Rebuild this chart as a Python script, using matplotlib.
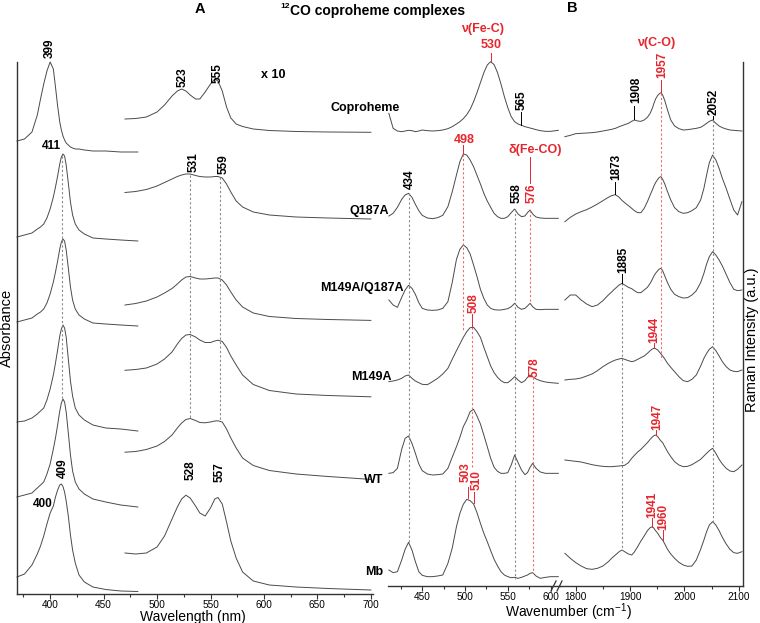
import matplotlib
matplotlib.use('Agg')
import matplotlib.pyplot as plt
from matplotlib.ticker import MultipleLocator
from matplotlib.lines import Line2D

plt.rcParams['font.family'] = ['Liberation Sans', 'DejaVu Sans']
plt.rcParams['mathtext.fontset'] = 'custom'
plt.rcParams['mathtext.rm'] = 'Liberation Sans'
plt.rcParams['mathtext.it'] = 'Liberation Sans:italic'
plt.rcParams['mathtext.bf'] = 'Liberation Sans:bold'

# ---------------- data: panel A (absorbance, arbitrary offset units) ----------------
soret_nm = [369, 376, 383, 388, 391, 394, 397, 400, 403, 405, 407, 409, 410.5, 412,
            413.5, 415, 417, 419, 421, 423.5, 427, 432, 440, 452, 466, 482]
soret_copro = [453, 455, 462, 479, 495, 510, 523, 532, 525, 507, 488, 472, 464, 458,
               454, 451, 449, 447, 446, 445, 445, 444, 443, 443, 442, 442]
soret_q187a = [357, 359, 361, 365, 367, 370, 376, 385, 397, 407, 418, 430, 437, 440,
               438, 429, 411, 392, 379, 370, 364, 360, 356, 355, 354, 353]
soret_mq = [272, 274, 276, 280, 282, 285, 291, 300, 312, 322, 333, 345, 352, 355,
            353, 344, 326, 307, 294, 285, 279, 275, 271, 270, 269, 268]
soret_m149a = [172, 173, 176, 180, 183, 186, 194, 205, 219, 231, 244, 258, 265, 269,
               266, 257, 235, 213, 198, 186, 179, 174, 169, 166, 165, 163]
soret_wt = [97, 99, 101, 106, 109, 112, 120, 130, 145, 156, 169, 183, 191, 195,
            192, 182, 161, 139, 123, 112, 105, 100, 95, 92, 89, 87]
soret_mb = [17, 20, 29, 40, 48, 58, 70, 81, 88, 97, 104, 109, 110, 107.5,
            102, 93, 78, 59, 44, 31, 19, 12, 7, 4.5, 3, 2.5]

vis_nm = [470, 480, 490, 500, 507, 514, 519, 523, 527, 531, 536, 540, 545, 550,
          554, 557, 561, 565, 569, 574, 580, 590, 605, 630, 660, 700]
vis_copro = [475, 475.5, 477, 482, 489, 498, 503, 505, 503, 499, 495, 495, 502, 510,
             515, 513, 503, 487, 476, 470, 467.5, 465, 463.5, 462.5, 462, 461.7]
vis_q187a = [401.5, 402.5, 404.5, 408, 411.5, 415, 417.5, 419, 420, 420, 418.5, 417.5, 417, 417,
             417.5, 417.5, 416, 410, 402, 393, 387, 382, 379, 377, 376, 375]
vis_mq = [289, 290.5, 293, 297, 301, 305.5, 310, 314, 317, 317.5, 316, 315, 315, 315.5,
          316, 316, 314, 309, 302, 294, 287, 281, 277.5, 275.5, 274.5, 273.6]
vis_m149a = [223.7, 224.5, 226, 230, 235, 242, 250, 255.5, 259, 259.5, 257, 254, 251.5, 251.5,
             253, 253.8, 252.5, 246.5, 238, 229, 219, 209.5, 203.5, 200, 198.5, 197.2]
vis_wt = [141.8, 142.5, 144.5, 148, 152.5, 159, 166, 171, 174.5, 175.5, 173.5, 171.5, 171.2, 172,
          173, 173.2, 172, 165, 156, 146, 136, 128.5, 123.5, 120, 117.5, 114.6]
vis_mb = [41, 40, 41, 47, 58, 75, 87, 95, 98.8, 96, 88, 81, 78, 86,
          95, 96.5, 90, 72, 53, 36, 22, 13, 9, 7, 5.5, 4]

# ---------------- data: panel B (Raman, arbitrary offset units) ----------------
low_cm = [411, 416, 421, 426, 430, 434, 438, 442, 446, 450, 456, 462, 468, 474, 480,
          485, 490, 494, 498, 502, 506, 510, 514, 518, 522, 526, 530, 534, 538, 542,
          546, 550, 554, 558, 562, 566, 570, 573, 576, 579, 583, 588, 594, 600, 609]
low_copro = [1418, 1373, 1365, 1363, 1365, 1367, 1366, 1363, 1365, 1368, 1366, 1365, 1366, 1368, 1372,
             1378, 1386, 1393, 1402, 1414, 1430, 1453, 1480, 1510, 1540, 1563, 1573, 1564, 1540, 1506,
             1468, 1435, 1408, 1393, 1386, 1382, 1378, 1376, 1374, 1372, 1369, 1366, 1364, 1364, 1367]
low_q187a = [1110, 1118, 1136, 1160, 1173, 1178, 1166, 1145, 1126, 1112, 1104, 1102, 1105, 1112, 1138,
             1182, 1233, 1273, 1296, 1293, 1278, 1258, 1232, 1206, 1178, 1155, 1136, 1118, 1108, 1103,
             1103, 1108, 1120, 1131, 1116, 1108, 1110, 1120, 1128, 1116, 1107, 1104, 1103, 1103, 1103]
low_mq = [858, 843, 836, 866, 888, 902, 893, 875, 850, 833, 828, 827, 828, 833, 853,
          910, 980, 1010, 1023, 1015, 996, 963, 928, 890, 863, 843, 833, 829, 828, 828,
          830, 832, 838, 848, 836, 830, 833, 840, 848, 838, 830, 829, 830, 830, 830]
low_m149a = [613, 615, 618, 623, 630, 633, 623, 615, 610, 605, 604, 613, 623, 636, 653,
             680, 706, 726, 746, 763, 775, 776, 763, 746, 716, 688, 660, 640, 626, 616,
             610, 610, 618, 628, 618, 610, 616, 626, 633, 628, 621, 616, 612, 610, 608]
low_wt = [338, 340, 353, 410, 443, 450, 428, 398, 366, 346, 336, 333, 334, 336, 353,
          386, 418, 446, 478, 498, 523, 530, 510, 486, 453, 418, 383, 356, 344, 338,
          338, 340, 363, 393, 370, 348, 334, 340, 356, 368, 353, 342, 338, 338, 338]
low_mb = [48, 40, 43, 78, 110, 131, 108, 73, 43, 32, 28, 28, 30, 33, 68,
          113, 178, 218, 245, 260, 256, 246, 220, 188, 158, 133, 106, 80, 60, 43,
          33, 28, 25, 26, 23, 26, 30, 33, 38, 40, 30, 23, 26, 28, 28]

high_cm = [1780, 1790, 1800, 1810, 1820, 1830, 1840, 1850, 1860, 1866, 1873, 1880, 1885, 1890,
           1897, 1903, 1908, 1914, 1920, 1926, 1932, 1937, 1941, 1944, 1947, 1951, 1954, 1957,
           1960, 1964, 1969, 1975, 1982, 1990, 1998, 2006, 2014, 2022, 2030, 2036, 2041, 2046,
           2052, 2058, 2064, 2070, 2077, 2084, 2091, 2098, 2106]
high_copro = [1348, 1352, 1357, 1358, 1359, 1360, 1362, 1365, 1368, 1370, 1373, 1378, 1381, 1384,
              1388, 1394, 1398, 1395, 1394, 1398, 1406, 1418, 1433, 1448, 1461, 1472, 1477, 1480,
              1473, 1456, 1428, 1398, 1380, 1372, 1368, 1369, 1371, 1373, 1376, 1382, 1388, 1394,
              1398, 1388, 1380, 1375, 1371, 1368, 1367, 1366, 1365]
high_q187a = [1093, 1106, 1116, 1123, 1129, 1137, 1146, 1156, 1166, 1171, 1174, 1166, 1157, 1150,
              1141, 1133, 1126, 1120, 1120, 1133, 1153, 1173, 1188, 1200, 1210, 1220, 1226, 1228,
              1220, 1206, 1183, 1158, 1135, 1123, 1118, 1120, 1126, 1135, 1158, 1193, 1233, 1270,
              1293, 1278, 1253, 1223, 1193, 1160, 1128, 1113, 1153]
high_mq = [858, 873, 873, 858, 846, 838, 843, 856, 873, 882, 893, 903, 908, 903,
           896, 892, 886, 880, 880, 888, 896, 908, 920, 930, 938, 946, 951, 953,
           946, 930, 910, 890, 875, 868, 864, 865, 873, 886, 910, 938, 966, 988,
           1003, 993, 978, 960, 935, 910, 890, 886, 888]
high_m149a = [618, 620, 621, 624, 630, 636, 646, 658, 668, 673, 678, 681, 683, 680,
              676, 673, 675, 680, 685, 690, 698, 706, 711, 713, 712, 708, 702, 696,
              690, 681, 668, 656, 643, 628, 616, 613, 620, 633, 660, 683, 698, 710,
              718, 706, 690, 673, 658, 648, 644, 643, 648]
high_wt = [378, 376, 374, 372, 368, 364, 361, 359, 358, 358, 359, 360, 361, 362,
           370, 383, 392, 402, 410, 420, 430, 440, 447, 451, 453, 448, 441, 435,
           430, 418, 403, 388, 373, 363, 358, 359, 364, 372, 380, 390, 398, 406,
           413, 398, 380, 366, 353, 345, 343, 350, 363]
high_mb = [98, 83, 70, 60, 52, 50, 53, 60, 73, 83, 93, 103, 108, 103,
           96, 93, 102, 118, 135, 150, 166, 175, 178, 173, 166, 158, 150, 143,
           138, 126, 110, 96, 83, 71, 63, 59, 60, 78, 110, 138, 163, 183,
           193, 183, 166, 146, 126, 110, 100, 98, 103]

sample_names = ['Coproheme', 'Q187A', 'M149A/Q187A', 'M149A', 'WT', 'Mb']

# ---------------- figure ----------------
W, H = 760, 623
fig = plt.figure(figsize=(W / 100, H / 100), dpi=100)


def fx(px):
    return px / W


def fy(py):
    return 1 - py / H


LINE = '#4a4a4a'
RED = '#e5262d'
DOT_GREY = '#8a8a8a'
DOT_RED = '#ef6a6e'
LW = 0.7

axA = fig.add_axes([fx(17), fy(594), (373 - 17) / W, (594 - 62) / H])
axBl = fig.add_axes([fx(388), fy(586), (560 - 388) / W, (586 - 62) / H])
axBh = fig.add_axes([fx(560), fy(586), (743 - 560) / W, (586 - 62) / H])

axA.set_xlim(369, 702)
axA.set_ylim(0, 532)
axBl.set_xlim(410, 611)
axBl.set_ylim(0, 1572)
axBh.set_xlim(1771, 2108)
axBh.set_ylim(0, 1572)

for ax in (axA, axBl, axBh):
    ax.set_facecolor('none')
    ax.set_yticks([])
    for s in ax.spines.values():
        s.set_linewidth(1.0)
        s.set_color('#333333')
    ax.spines['top'].set_visible(False)
    ax.tick_params(axis='x', which='major', direction='out', length=3.5, width=0.8,
                   labelsize=7.2, pad=1.0, colors='#333333', labelcolor='black')
    ax.tick_params(axis='x', which='minor', direction='out', length=2, width=0.8,
                   colors='#333333')

axA.spines['right'].set_visible(False)
axBl.spines['right'].set_visible(False)
axBl.spines['left'].set_visible(False)
axBh.spines['left'].set_visible(False)

axA.xaxis.set_major_locator(MultipleLocator(50))
axA.xaxis.set_minor_locator(MultipleLocator(25))
axBl.set_xticks([450, 500, 550, 600])
axBl.xaxis.set_minor_locator(MultipleLocator(25))
axBh.set_xticks([1800, 1900, 2000, 2100])
axBh.xaxis.set_minor_locator(MultipleLocator(50))

# spectra
for ys in (soret_copro, soret_q187a, soret_mq, soret_m149a, soret_wt, soret_mb):
    axA.plot(soret_nm, ys, color=LINE, lw=LW, clip_on=False)
for ys in (vis_copro, vis_q187a, vis_mq, vis_m149a, vis_wt, vis_mb):
    axA.plot(vis_nm, ys, color=LINE, lw=LW, clip_on=False)
for ys in (low_copro, low_q187a, low_mq, low_m149a, low_wt, low_mb):
    axBl.plot(low_cm, ys, color=LINE, lw=LW, clip_on=False)
for ys in (high_copro, high_q187a, high_mq, high_m149a, high_wt, high_mb):
    axBh.plot(high_cm, ys, color=LINE, lw=LW, clip_on=False)


def dotted(ax, x, y0, y1, color):
    ax.plot([x, x], [y0, y1], color=color, lw=0.8, ls=(0, (2, 2)), clip_on=False)


def lead(ax, x, y0, y1, color='black'):
    ax.plot([x, x], [y0, y1], color=color, lw=0.7, clip_on=False)


def vlabel(ax, x, y, s, color='black', size=8.5):
    ax.text(x, y, s, rotation=90, ha='center', va='bottom', fontsize=size,
            fontweight='bold', color=color, clip_on=False)


def hlabel(ax, x, y, s, color='black', size=8.5):
    ax.text(x, y, s, ha='center', va='center', fontsize=size,
            fontweight='bold', color=color, clip_on=False)


# panel A annotations
dotted(axA, 411, 438, 196, DOT_GREY)
dotted(axA, 531, 419, 176, DOT_GREY)
dotted(axA, 559, 417, 173, DOT_GREY)
vlabel(axA, 400, 536, '399')
hlabel(axA, 401, 448, '411')
vlabel(axA, 411.5, 116, '409')
hlabel(axA, 393, 90, '400')
vlabel(axA, 524, 507, '523')
vlabel(axA, 557, 511, '555')
hlabel(axA, 609, 519, 'x 10', size=9)
vlabel(axA, 534, 422, '531')
vlabel(axA, 562, 420, '559')
vlabel(axA, 531, 114, '528')
vlabel(axA, 559, 112, '557')

# panel B low annotations
dotted(axBl, 434, 1178, 131, DOT_GREY)
dotted(axBl, 498, 1296, 768, DOT_RED)
dotted(axBl, 558, 1131, 20, DOT_GREY)
dotted(axBl, 576, 1128, 848, DOT_RED)
dotted(axBl, 579, 628, 38, DOT_RED)
dotted(axBl, 508.7, 776, 350, DOT_RED)
hlabel(axBl, 521, 1670, 'ν(Fe-C)', RED, 9)
hlabel(axBl, 530, 1623, '530', RED, 9)
lead(axBl, 530, 1575, 1600, RED)
vlabel(axBl, 566, 1428, '565')
lead(axBl, 565, 1383, 1423)
hlabel(axBl, 499, 1338, '498', RED, 9)
lead(axBl, 498, 1299, 1323, RED)
vlabel(axBl, 435.6, 1190, '434')
vlabel(axBl, 560.3, 1148, '558')
vlabel(axBl, 577.8, 1148, '576', RED)
hlabel(axBl, 582.5, 1308, 'δ(Fe-CO)', RED, 9)
lead(axBl, 576, 1210, 1288, RED)
vlabel(axBl, 509.6, 818, '508', RED)
lead(axBl, 508.7, 778, 815, RED)
vlabel(axBl, 581.7, 628, '578', RED)
vlabel(axBl, 501.0, 313, '503', RED)
lead(axBl, 503, 263, 298, RED)
vlabel(axBl, 514.0, 288, '510', RED)
lead(axBl, 510, 248, 283, RED)

# panel B high annotations
dotted(axBh, 1957, 1480, 678, DOT_RED)
dotted(axBh, 2052, 1398, 193, DOT_GREY)
dotted(axBh, 1885, 908, 108, DOT_GREY)
hlabel(axBh, 1949, 1630, 'ν(C-O)', RED, 9)
vlabel(axBh, 1960, 1523, '1957', RED)
lead(axBh, 1957, 1483, 1518, RED)
vlabel(axBh, 1911, 1448, '1908')
lead(axBh, 1908, 1400, 1440)
vlabel(axBh, 2054, 1412, '2052')
lead(axBh, 2052, 1400, 1410)
vlabel(axBh, 1875.5, 1218, '1873')
lead(axBh, 1873, 1175, 1213)
vlabel(axBh, 1887.7, 938, '1885')
lead(axBh, 1885, 910, 936)
vlabel(axBh, 1944.8, 728, '1944', RED)
lead(axBh, 1944, 713, 728, RED)
vlabel(axBh, 1951, 468, '1947', RED)
lead(axBh, 1947, 453, 468, RED)
vlabel(axBh, 1940, 204, '1941', RED)
lead(axBh, 1941, 178, 203, RED)
vlabel(axBh, 1961.3, 168, '1960', RED)
lead(axBh, 1960, 138, 168, RED)

# axis break marks
for x0 in (551, 557):
    fig.add_artist(Line2D([fx(x0), fx(x0 + 5)], [fy(591), fy(581)],
                          transform=fig.transFigure, color='#333333', lw=0.9))

# sample names
name_pos = [(365, 108), (369, 211), (361.5, 288), (371, 377), (374, 480), (374, 572)]
for name, (px, py) in zip(sample_names, name_pos):
    fig.text(fx(px), fy(py), name, ha='center', va='center', fontsize=9, fontweight='bold')

# axis titles
fig.text(fx(193), fy(616.5), 'Wavelength (nm)', ha='center', va='center', fontsize=10)
fig.text(fx(568), fy(612), 'Wavenumber (cm$^{-1}$)', ha='center', va='center', fontsize=10)
fig.text(fx(7), fy(328), 'Absorbance', ha='center', va='center', rotation=90, fontsize=10.5)
fig.text(fx(752), fy(340), 'Raman Intensity (a.u.)', ha='center', va='center', rotation=90,
         fontsize=10.5)

# panel letters and title
fig.text(fx(200), fy(9), 'A', ha='center', va='center', fontsize=10.5, fontweight='bold')
fig.text(fx(572), fy(8), 'B', ha='center', va='center', fontsize=10.5, fontweight='bold')
fig.text(fx(290), fy(11), 'CO coproheme complexes', ha='left', va='center', fontsize=10,
         fontweight='bold')
fig.text(fx(290), fy(6), '12', ha='right', va='center', fontsize=6, fontweight='bold')

fig.savefig('out.png', dpi=100)
